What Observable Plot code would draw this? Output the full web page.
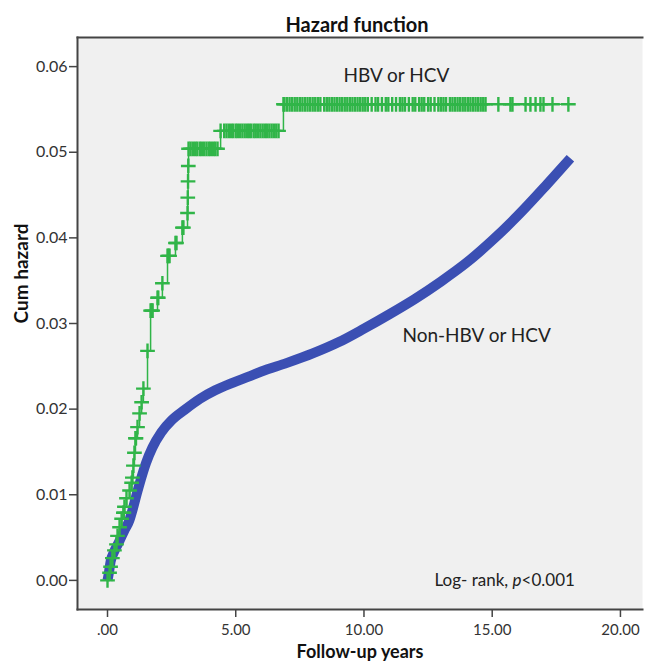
<!DOCTYPE html>
<html>
<head>
<meta charset="utf-8">
<script src="https://cdn.jsdelivr.net/npm/d3@7"></script>
<script src="https://cdn.jsdelivr.net/npm/@observablehq/plot@0.6"></script>
<style>
  html, body { margin: 0; padding: 0; background: #fff; }
  #chart { width: 645px; height: 666px; }
</style>
</head>
<body>
<div id="chart"></div>
<script>
// ---- data ----
const xTicks = [0, 5, 10, 15, 20];
const xTickLabels = [".00", "5.00", "10.00", "15.00", "20.00"];
const yTicks = [0, 0.01, 0.02, 0.03, 0.04, 0.05, 0.06];
const yTickLabels = ["0.00", "0.01", "0.02", "0.03", "0.04", "0.05", "0.06"];

const seriesNames = ["HBV or HCV", "Non-HBV or HCV"];

// HBV or HCV: event times and cumulative hazard (step function)
const greenTime = [0, 0.08, 0.12, 0.19, 0.27, 0.35, 0.39, 0.47, 0.55, 0.62, 0.66, 0.74, 0.86, 0.94, 0.97, 1.01, 1.05, 1.09, 1.17, 1.25, 1.33, 1.40, 1.56, 1.68, 1.95, 2.14, 2.34, 2.65, 2.92, 3.12, 3.13, 3.14, 3.15, 3.16, 4.41, 6.86, 17.97];
const greenHaz  = [0, 0.0009, 0.0016, 0.0026, 0.0035, 0.0042, 0.0052, 0.0062, 0.0072, 0.0079, 0.0086, 0.0096, 0.0105, 0.0114, 0.0120, 0.0134, 0.0149, 0.0166, 0.0179, 0.0195, 0.0208, 0.0224, 0.0268, 0.0315, 0.0330, 0.0347, 0.0379, 0.0394, 0.0412, 0.0429, 0.0447, 0.0466, 0.0484, 0.0504, 0.0525, 0.0556, 0.0556];
// HBV or HCV: censoring times (marked with +)
const greenCensorTime = [0.64, 1.11, 1.72, 1.76, 1.98, 2.38, 2.42, 2.69, 2.96,
  3.24, 3.33, 3.42, 3.5, 3.6, 3.68, 3.77, 3.86, 3.95, 4.03, 4.12, 4.2, 4.29,
  4.55, 4.64, 4.73, 4.82, 4.9, 5.0, 5.08, 5.17, 5.26, 5.35, 5.44, 5.52, 5.6, 5.7, 5.78, 5.87, 5.96, 6.05, 6.14, 6.22, 6.31, 6.4, 6.49, 6.58, 6.67,
  6.9, 7.0, 7.1, 7.2, 7.3, 7.4, 7.5, 7.6, 7.7, 7.8, 7.9, 8.0, 8.1, 8.2, 8.3, 8.45, 8.55, 8.65, 8.75, 8.85, 8.95, 9.05, 9.15, 9.25, 9.35, 9.45, 9.55, 9.65, 9.75, 9.85, 9.95, 10.05, 10.15, 10.3, 10.45, 10.55, 10.7, 10.85, 10.95, 11.1, 11.25, 11.4, 11.5, 11.6, 11.75, 11.9, 12.0, 12.15, 12.25, 12.35, 12.5, 12.6, 12.75, 12.9, 13.0, 13.1, 13.2, 13.35, 13.45, 13.55, 13.65, 13.75, 13.85, 13.95, 14.05, 14.15, 14.25, 14.35, 14.45, 14.55, 14.65, 14.74,
  15.24, 15.71, 15.79, 16.30, 16.49, 16.69, 16.88, 17.0, 17.35, 17.97];

// Non-HBV or HCV: cumulative hazard
const blueTime = [0, 0.05, 0.12, 0.25, 0.45, 0.65, 0.85, 1.0, 1.15, 1.3, 1.5, 1.75, 2.1, 2.5, 3.0, 3.6, 4.2, 4.9, 5.5, 6.0, 7.0, 8.0, 9.0, 10.0, 11.0, 12.0, 13.0, 14.0, 15.0, 16.0, 17.0, 17.6, 18.05];
const blueHaz  = [0, 0.0008, 0.0022, 0.0033, 0.0045, 0.0058, 0.0070, 0.0085, 0.0102, 0.0118, 0.0137, 0.0155, 0.0173, 0.0187, 0.0199, 0.0212, 0.0222, 0.0231, 0.0238, 0.0244, 0.0254, 0.0265, 0.0278, 0.0294, 0.0311, 0.0329, 0.0349, 0.0371, 0.0397, 0.0426, 0.0458, 0.0478, 0.0493];

const annotationText = ["HBV or HCV", "Non-HBV or HCV", "Log- rank, p<0.001"];
const annotationX = [9.2, 11.5, 12.75];
const annotationY = [0.0589, 0.0286, 0.0000];

// ---- derived tables ----
const green = greenTime.map((t, i) => ({t, h: greenHaz[i]}));
const greenEvents = green.slice(0, -1);
const stepAt = t => { let h = 0; for (const d of green) if (d.t <= t) h = d.h; return h; };
const greenCensor = greenCensorTime.map(t => ({t, h: stepAt(t)}));
const blue = blueTime.map((t, i) => ({t, h: blueHaz[i]}));
const notes = annotationText.map((s, i) => ({s, x: annotationX[i], y: annotationY[i]}));

const GREEN = "#30b548", BLUE = "#3b4fb3", AXIS = "#444";

const chart = Plot.plot({
  width: 645,
  height: 666,
  marginLeft: 77,
  marginRight: 3,
  marginTop: 37,
  marginBottom: 57,
  style: {fontFamily: "Lato, 'Open Sans', sans-serif", fontSize: "16px", color: "#333", background: "#fff"},
  x: {domain: [-1.17, 20.86]},
  y: {domain: [-0.0034, 0.0634]},
  marks: [
    Plot.frame({fill: "#f0f0f0", stroke: null}),
    Plot.frame({anchor: "top", stroke: AXIS, strokeWidth: 2}),
    Plot.frame({anchor: "left", stroke: AXIS, strokeWidth: 2}),
    Plot.frame({anchor: "bottom", stroke: AXIS, strokeWidth: 2}),
    Plot.axisX({ticks: xTicks, tickFormat: d => xTickLabels[xTicks.indexOf(d)], tickSize: 8, tickPadding: 7, fontSize: 15, stroke: AXIS, strokeWidth: 1.5, label: null}),
    Plot.axisY({ticks: yTicks, tickFormat: d => yTickLabels[yTicks.indexOf(d)], tickSize: 8, tickPadding: 2, fontSize: 16, stroke: AXIS, strokeWidth: 1.5, label: null}),
    Plot.line(blue, {x: "t", y: "h", stroke: BLUE, strokeWidth: 10, strokeLinecap: "butt", strokeLinejoin: "round", curve: "monotone-x"}),
    Plot.line(green, {x: "t", y: "h", stroke: GREEN, strokeWidth: 1.5, curve: "step-after"}),
    Plot.dot(greenEvents, {x: "t", y: "h", symbol: "plus", r: 4.8, stroke: GREEN, strokeWidth: 2.4}),
    Plot.dot(greenCensor, {x: "t", y: "h", symbol: "plus", r: 4.8, stroke: GREEN, strokeWidth: 2.4}),
    Plot.text(notes, {x: "x", y: "y", text: "s", textAnchor: "start", fontSize: d => d.s.startsWith("Log") ? 17 : 19, fill: "#222"}),
    Plot.text(["Hazard function"], {frameAnchor: "top", dy: -20, dx: -3, fontWeight: "bold", fontSize: 20, fill: "#111"}),
    Plot.text(["Follow-up years"], {frameAnchor: "bottom", dy: 48, fontWeight: "bold", fontSize: 18, fill: "#111"}),
    Plot.text(["Cum hazard"], {frameAnchor: "left", dx: -56, rotate: -90, fontWeight: "bold", fontSize: 19, fill: "#111"})
  ]
});
document.getElementById("chart").appendChild(chart);

// italic "p" in the log-rank note
chart.querySelectorAll("text").forEach(el => {
  if (el.textContent === "Log- rank, p<0.001") {
    const ns = "http://www.w3.org/2000/svg";
    el.textContent = "";
    const a = document.createElementNS(ns, "tspan"); a.textContent = "Log- rank, ";
    const b = document.createElementNS(ns, "tspan"); b.textContent = "p"; b.setAttribute("font-style", "italic");
    const c = document.createElementNS(ns, "tspan"); c.textContent = "<0.001";
    el.append(a, b, c);
  }
});
</script>
</body>
</html>
